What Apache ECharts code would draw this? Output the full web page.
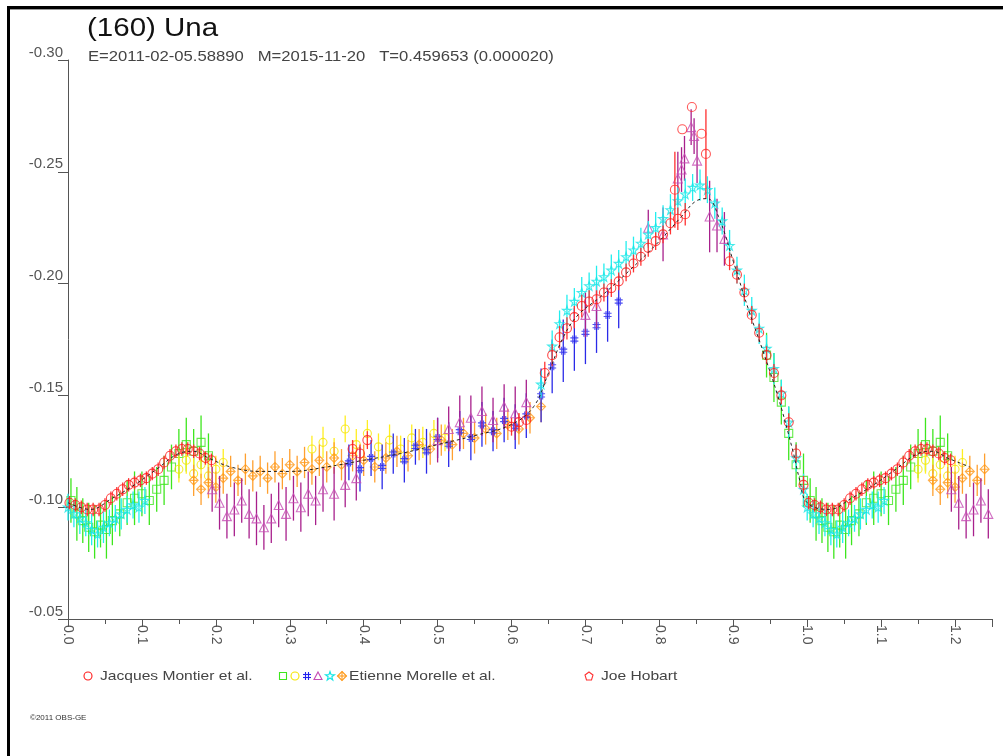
<!DOCTYPE html>
<html lang="en">
  <head>
    <meta charset="UTF-8" />
    <title>(160) Una</title>
    <script src="https://cdn.jsdelivr.net/npm/echarts@6/dist/echarts.min.js"></script>
  </head>
  <style>
    html,
    body {
      margin: 0;
      padding: 0;
      background: #fff;
    }
    #echart {
      width: 1003px;
      height: 756px;
    }
  </style>
  <body>
    <div id="echart"></div>
  </body>
  <script>
    // [phase, magnitude, error]
    const montier = [
      [0.002, -0.102, 0.003], [0.010, -0.101, 0.003], [0.018, -0.100, 0.003], [0.026, -0.099, 0.003],
      [0.034, -0.099, 0.003], [0.042, -0.099, 0.003], [0.050, -0.101, 0.003], [0.058, -0.104, 0.003],
      [0.066, -0.106, 0.003], [0.074, -0.108, 0.003], [0.082, -0.110, 0.003], [0.090, -0.111, 0.003],
      [0.098, -0.112, 0.003], [0.106, -0.113, 0.003], [0.114, -0.115, 0.003], [0.122, -0.117, 0.003],
      [0.130, -0.120, 0.003], [0.138, -0.123, 0.003], [0.146, -0.125, 0.003], [0.154, -0.126, 0.003],
      [0.162, -0.126, 0.003], [0.170, -0.125, 0.003], [0.178, -0.124, 0.003], [0.186, -0.122, 0.003],
      [0.194, -0.121, 0.003], [0.385, -0.126, 0.004], [0.395, -0.124, 0.004], [0.405, -0.130, 0.004],
      [0.600, -0.136, 0.004], [0.610, -0.138, 0.004], [0.620, -0.139, 0.004], [0.645, -0.160, 0.005],
      [0.655, -0.168, 0.005], [0.665, -0.176, 0.005], [0.675, -0.180, 0.005], [0.685, -0.185, 0.005],
      [0.695, -0.190, 0.005], [0.705, -0.192, 0.005], [0.715, -0.193, 0.004], [0.725, -0.196, 0.004],
      [0.735, -0.198, 0.004], [0.745, -0.201, 0.004], [0.755, -0.205, 0.004], [0.765, -0.209, 0.004],
      [0.775, -0.212, 0.004], [0.785, -0.216, 0.004], [0.795, -0.219, 0.004], [0.805, -0.222, 0.004],
      [0.815, -0.227, 0.005], [0.825, -0.229, 0.005], [0.835, -0.231, 0.005], [0.895, -0.210, 0.004],
      [0.905, -0.204, 0.004], [0.915, -0.196, 0.004], [0.925, -0.186, 0.004], [0.935, -0.178, 0.004],
      [0.945, -0.168, 0.004], [0.955, -0.160, 0.004], [0.965, -0.150, 0.004], [0.975, -0.138, 0.004],
      [0.985, -0.124, 0.004], [0.995, -0.110, 0.004]
    ];
    const morelleGreen = [
      [0.004, -0.103, 0.010], [0.012, -0.097, 0.012], [0.020, -0.094, 0.010], [0.028, -0.091, 0.011],
      [0.036, -0.089, 0.012], [0.044, -0.092, 0.010], [0.052, -0.090, 0.013], [0.060, -0.094, 0.011],
      [0.070, -0.097, 0.010], [0.080, -0.102, 0.010], [0.090, -0.104, 0.012], [0.100, -0.106, 0.010],
      [0.110, -0.103, 0.011], [0.120, -0.108, 0.010], [0.130, -0.112, 0.011], [0.140, -0.118, 0.010],
      [0.150, -0.124, 0.011], [0.160, -0.128, 0.012], [0.170, -0.125, 0.010], [0.180, -0.129, 0.012],
      [0.190, -0.123, 0.010], [0.945, -0.168, 0.010], [0.955, -0.158, 0.011], [0.965, -0.147, 0.010],
      [0.975, -0.133, 0.012], [0.985, -0.119, 0.010], [0.995, -0.112, 0.012]
    ];
    const morelleYellow = [
      [0.150, -0.117, 0.006], [0.160, -0.121, 0.006], [0.170, -0.115, 0.007], [0.180, -0.119, 0.006],
      [0.190, -0.114, 0.007], [0.200, -0.117, 0.006], [0.210, -0.120, 0.006], [0.330, -0.126, 0.006],
      [0.345, -0.129, 0.007], [0.360, -0.125, 0.006], [0.375, -0.135, 0.006], [0.390, -0.128, 0.007],
      [0.405, -0.133, 0.006], [0.420, -0.127, 0.006], [0.435, -0.130, 0.007], [0.450, -0.126, 0.006],
      [0.465, -0.131, 0.006], [0.480, -0.129, 0.007], [0.495, -0.133, 0.006], [0.510, -0.131, 0.006]
    ];
    const morelleBlue = [
      [0.380, -0.120, 0.008], [0.395, -0.117, 0.010], [0.410, -0.122, 0.008], [0.425, -0.118, 0.010],
      [0.440, -0.124, 0.009], [0.455, -0.121, 0.010], [0.470, -0.127, 0.008], [0.485, -0.125, 0.010],
      [0.500, -0.131, 0.009], [0.515, -0.128, 0.010], [0.530, -0.134, 0.009], [0.545, -0.131, 0.010],
      [0.560, -0.137, 0.010], [0.575, -0.134, 0.009], [0.590, -0.139, 0.010], [0.605, -0.136, 0.010],
      [0.620, -0.141, 0.010], [0.640, -0.150, 0.012], [0.655, -0.163, 0.012], [0.670, -0.170, 0.014],
      [0.685, -0.175, 0.014], [0.700, -0.178, 0.014], [0.715, -0.181, 0.012], [0.730, -0.186, 0.012],
      [0.745, -0.192, 0.012]
    ];
    const morelleMagenta = [
      [0.195, -0.108, 0.010], [0.205, -0.102, 0.012], [0.215, -0.096, 0.010], [0.225, -0.099, 0.012],
      [0.235, -0.103, 0.010], [0.245, -0.097, 0.011], [0.255, -0.095, 0.012], [0.265, -0.091, 0.010],
      [0.275, -0.095, 0.011], [0.285, -0.101, 0.010], [0.295, -0.097, 0.012], [0.305, -0.104, 0.010],
      [0.315, -0.100, 0.011], [0.325, -0.106, 0.010], [0.335, -0.103, 0.011], [0.345, -0.108, 0.010],
      [0.360, -0.106, 0.012], [0.375, -0.110, 0.010], [0.390, -0.113, 0.010], [0.500, -0.130, 0.010],
      [0.515, -0.135, 0.010], [0.530, -0.138, 0.012], [0.545, -0.140, 0.010], [0.560, -0.143, 0.011],
      [0.575, -0.139, 0.010], [0.590, -0.145, 0.010], [0.605, -0.142, 0.012], [0.620, -0.147, 0.010],
      [0.700, -0.186, 0.010], [0.715, -0.190, 0.010], [0.785, -0.225, 0.008], [0.805, -0.222, 0.012],
      [0.825, -0.247, 0.012], [0.830, -0.251, 0.010], [0.834, -0.256, 0.010], [0.843, -0.270, 0.008],
      [0.847, -0.266, 0.008], [0.851, -0.255, 0.010], [0.868, -0.230, 0.016], [0.878, -0.226, 0.012],
      [0.888, -0.220, 0.012]
    ];
    const morelleCyan = [
      [0.000, -0.100, 0.006], [0.008, -0.097, 0.006], [0.016, -0.095, 0.007], [0.024, -0.093, 0.006],
      [0.032, -0.090, 0.007], [0.040, -0.088, 0.006], [0.048, -0.091, 0.007], [0.056, -0.093, 0.006],
      [0.064, -0.095, 0.006], [0.072, -0.097, 0.007], [0.080, -0.099, 0.006], [0.088, -0.101, 0.006],
      [0.096, -0.100, 0.007], [0.104, -0.103, 0.006], [0.640, -0.155, 0.006], [0.655, -0.172, 0.007],
      [0.665, -0.182, 0.006], [0.675, -0.188, 0.007], [0.685, -0.192, 0.006], [0.695, -0.196, 0.007],
      [0.705, -0.199, 0.006], [0.715, -0.201, 0.007], [0.725, -0.203, 0.006], [0.735, -0.206, 0.007],
      [0.745, -0.209, 0.006], [0.755, -0.212, 0.007], [0.765, -0.215, 0.006], [0.775, -0.218, 0.007],
      [0.785, -0.222, 0.006], [0.795, -0.225, 0.007], [0.805, -0.229, 0.006], [0.815, -0.233, 0.007],
      [0.825, -0.237, 0.006], [0.835, -0.240, 0.007], [0.845, -0.243, 0.006], [0.855, -0.244, 0.007],
      [0.865, -0.242, 0.006], [0.875, -0.236, 0.007], [0.885, -0.228, 0.006], [0.895, -0.217, 0.007],
      [0.905, -0.206, 0.006], [0.915, -0.197, 0.007], [0.925, -0.188, 0.006], [0.935, -0.180, 0.007],
      [0.945, -0.171, 0.006], [0.955, -0.162, 0.007], [0.965, -0.151, 0.006], [0.975, -0.138, 0.007],
      [0.985, -0.122, 0.006], [0.995, -0.108, 0.007]
    ];
    const morelleOrange = [
      [0.170, -0.112, 0.007], [0.180, -0.108, 0.007], [0.190, -0.111, 0.007], [0.200, -0.109, 0.007],
      [0.210, -0.113, 0.007], [0.220, -0.116, 0.007], [0.230, -0.112, 0.007], [0.240, -0.117, 0.007],
      [0.250, -0.114, 0.007], [0.260, -0.116, 0.007], [0.270, -0.113, 0.007], [0.280, -0.118, 0.007],
      [0.290, -0.115, 0.007], [0.300, -0.119, 0.007], [0.310, -0.116, 0.007], [0.320, -0.120, 0.007],
      [0.330, -0.117, 0.007], [0.340, -0.121, 0.007], [0.350, -0.118, 0.007], [0.360, -0.122, 0.007],
      [0.370, -0.119, 0.007], [0.385, -0.123, 0.007], [0.400, -0.121, 0.007], [0.415, -0.118, 0.007],
      [0.430, -0.122, 0.007], [0.445, -0.125, 0.007], [0.460, -0.123, 0.007], [0.475, -0.128, 0.007],
      [0.490, -0.126, 0.007], [0.505, -0.130, 0.007], [0.520, -0.128, 0.007], [0.535, -0.133, 0.007],
      [0.550, -0.131, 0.007], [0.565, -0.135, 0.007], [0.580, -0.133, 0.007], [0.595, -0.137, 0.007],
      [0.610, -0.135, 0.007], [0.625, -0.140, 0.007], [0.640, -0.145, 0.007]
    ];
    const hobart = [
      [0.821, -0.242, 0.017], [0.831, -0.269, 0.000], [0.844, -0.279, 0.000],
      [0.857, -0.267, 0.000], [0.863, -0.258, 0.020]
    ];
    // model curve [phase, magnitude]
    const fitCurve = [
      [0.00, -0.102], [0.03, -0.099], [0.06, -0.104], [0.09, -0.110], [0.12, -0.117],
      [0.15, -0.124], [0.17, -0.125], [0.19, -0.122], [0.22, -0.118], [0.26, -0.116],
      [0.30, -0.116], [0.35, -0.118], [0.40, -0.121], [0.45, -0.124], [0.50, -0.128],
      [0.55, -0.132], [0.60, -0.137], [0.63, -0.145], [0.65, -0.160], [0.67, -0.176],
      [0.69, -0.186], [0.72, -0.194], [0.76, -0.206], [0.80, -0.219], [0.83, -0.230],
      [0.85, -0.237], [0.865, -0.238], [0.88, -0.230], [0.90, -0.210], [0.92, -0.189],
      [0.94, -0.170], [0.96, -0.150], [0.98, -0.126], [0.99, -0.112]
    ];

    // phases below 0.25 are drawn again after 1.0
    function wrap(rows) {
      return rows.concat(rows.filter((r) => r[0] < 0.25).map((r) => [r[0] + 1, ...r.slice(1)]));
    }

    const HASH = "path://M3,0L3,10M7,0L7,10M0,3L10,3M0,7L10,7";
    const STAR = "path://M5,0L6.2,3.6L10,3.6L6.9,5.9L8.1,9.5L5,7.3L1.9,9.5L3.1,5.9L0,3.6L3.8,3.6Z";
    const DIAMOND = "path://M5,0L10,5L5,10L0,5ZM5,0L5,10M0,5L10,5";

    function bars(rows, color, z) {
      return {
        type: "custom",
        data: wrap(rows),
        z: z,
        silent: true,
        encode: { x: 0, y: 1 },
        renderItem(params, api) {
          const x = api.value(0), y = api.value(1), e = api.value(2);
          const a = api.coord([x, y - e]);
          const b = api.coord([x, y + e]);
          return {
            type: "line",
            shape: { x1: a[0], y1: a[1], x2: b[0], y2: b[1] },
            style: { stroke: color, lineWidth: 1.3 },
          };
        },
      };
    }

    function dots(rows, symbol, color, size, z) {
      return {
        type: "scatter",
        data: wrap(rows).map((r) => [r[0], r[1]]),
        symbol: symbol,
        symbolSize: size,
        z: z,
        silent: true,
        itemStyle: { color: "rgba(0,0,0,0)", borderColor: color, borderWidth: 1.1 },
      };
    }

    const sets = [
      [morelleGreen, "rect", "#3ee61e", "#3ee61e", 8],
      [morelleYellow, "circle", "#f5e600", "#ffee22", 8],
      [morelleOrange, DIAMOND, "#ff9a1a", "#ffa030", 9],
      [morelleBlue, HASH, "#2222ee", "#2a2ae8", 8],
      [morelleMagenta, "triangle", "#c64cb4", "#a8208c", 9],
      [morelleCyan, STAR, "#14e6e6", "#22eeee", 9],
      [montier, "circle", "#ff1a1a", "#ff3333", 9],
      [hobart, "circle", "#ff3030", "#ff3030", 9],
    ];

    const series = [];
    sets.forEach((s, i) => {
      series.push(bars(s[0], s[3], 2 + i * 2));
      series.push(dots(s[0], s[1], s[2], s[4], 3 + i * 2));
    });
    series.push({
      type: "line",
      data: wrap(fitCurve),
      smooth: 0.4,
      symbol: "none",
      silent: true,
      z: 30,
      lineStyle: { color: "#222", width: 1, type: [3, 3] },
    });

    // legend symbols, drawn by hand (one entry carries six markers)
    const legendY = 676;
    function pts(list, x) {
      return list.map((p) => [x + p[0], legendY + p[1]]);
    }
    function legendMark(kind, color, x) {
      const style = { fill: "none", stroke: color, lineWidth: 1.1 };
      const line = (x1, y1, x2, y2) => ({ type: "line", shape: { x1: x + x1, y1: legendY + y1, x2: x + x2, y2: legendY + y2 }, style });
      if (kind === "circle") return [{ type: "circle", shape: { cx: x, cy: legendY, r: 4 }, style }];
      if (kind === "rect") return [{ type: "rect", shape: { x: x - 3.5, y: legendY - 3.5, width: 7, height: 7 }, style }];
      if (kind === "triangle") return [{ type: "polygon", shape: { points: pts([[0, -4], [4, 3.5], [-4, 3.5]], x) }, style }];
      if (kind === "star")
        return [{
          type: "polygon",
          shape: { points: pts([[0, -4.5], [1.1, -1.3], [4.5, -1.3], [1.8, 0.7], [2.8, 4], [0, 2], [-2.8, 4], [-1.8, 0.7], [-4.5, -1.3], [-1.1, -1.3]], x) },
          style,
        }];
      if (kind === "penta") return [{ type: "polygon", shape: { points: pts([[0, -4], [4, -1], [2.5, 4], [-2.5, 4], [-4, -1]], x) }, style }];
      if (kind === "hash") return [line(-1.5, -4, -1.5, 4), line(1.5, -4, 1.5, 4), line(-4, -1.5, 4, -1.5), line(-4, 1.5, 4, 1.5)];
      // diamond with cross
      return [
        { type: "polygon", shape: { points: pts([[0, -4.5], [4.5, 0], [0, 4.5], [-4.5, 0]], x) }, style },
        line(0, -4.5, 0, 4.5),
        line(-4.5, 0, 4.5, 0),
      ];
    }
    const legendItems = [
      ["circle", "#ff1a1a", 88],
      ["rect", "#3ee61e", 283],
      ["circle", "#f5e600", 295],
      ["hash", "#2222ee", 307],
      ["triangle", "#c64cb4", 318],
      ["star", "#14e6e6", 330],
      ["diamond", "#ff9a1a", 342],
      ["penta", "#ff3030", 589],
    ];
    const legendGraphics = [];
    legendItems.forEach((it) => legendGraphics.push(...legendMark(it[0], it[1], it[2])));

    function label(text, x, y, size, color, sx) {
      return {
        type: "text",
        x: x,
        y: y,
        scaleX: sx,
        style: { text: text, fontSize: size, fill: color, fontFamily: "Liberation Sans, Arial", verticalAlign: "middle" },
      };
    }

    const chart = echarts.init(document.getElementById("echart"));
    const option = {
      animation: false,
      backgroundColor: "#fff",
      grid: { left: 68, top: 60, right: 11, bottom: 137 },
      xAxis: {
        type: "value",
        min: 0,
        max: 1.25,
        interval: 0.1,
        axisLine: { onZero: false, lineStyle: { color: "#555" } },
        axisTick: { length: 8, lineStyle: { color: "#555" } },
        minorTick: { show: true, splitNumber: 2, length: 5, lineStyle: { color: "#555" } },
        splitLine: { show: false },
        axisLabel: {
          rotate: -90,
          margin: 6,
          fontSize: 14,
          color: "#555",
          fontFamily: "Liberation Sans, Arial",
          formatter: (v) => (Math.abs(v * 10 - Math.round(v * 10)) < 1e-6 ? v.toFixed(1) : ""),
        },
      },
      yAxis: {
        type: "value",
        inverse: true,
        min: -0.3,
        max: -0.05,
        interval: 0.05,
        axisLine: { show: true, onZero: false, lineStyle: { color: "#555" } },
        axisTick: { show: true, length: 10, lineStyle: { color: "#555" } },
        splitLine: { show: false },
        axisLabel: {
          margin: 5,
          fontSize: 15,
          color: "#555",
          verticalAlign: "bottom",
          fontFamily: "Liberation Sans, Arial",
          formatter: (v) => v.toFixed(2),
        },
      },
      graphic: [
        { type: "rect", shape: { x: 7, y: 6, width: 3, height: 750 }, style: { fill: "#000" } },
        { type: "rect", shape: { x: 7, y: 6, width: 996, height: 3 }, style: { fill: "#000" } },
        { type: "rect", shape: { x: 10, y: 9, width: 993, height: 1 }, style: { fill: "#999" } },
        label("(160) Una", 87, 29, 25, "#111", 1.18),
        label("E=2011-02-05.58890   M=2015-11-20   T=0.459653 (0.000020)", 88, 57, 14, "#444", 1.19),
        label("Jacques Montier et al.", 100, legendY, 13, "#444", 1.2),
        label("Etienne Morelle et al.", 349, legendY, 13, "#444", 1.2),
        label("Joe Hobart", 601, legendY, 13, "#444", 1.2),
        label("©2011 OBS-GE", 30, 718, 8, "#333", 1),
        ...legendGraphics,
      ],
      series: series,
    };
    chart.setOption(option);
  </script>
</html>
